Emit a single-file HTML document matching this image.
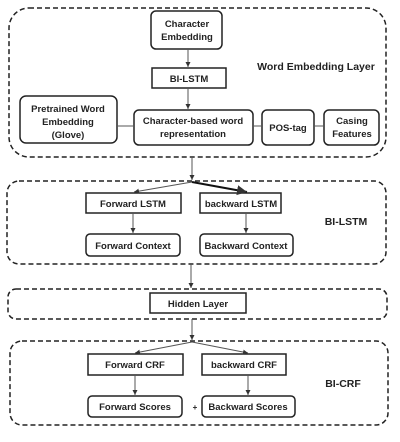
<!DOCTYPE html>
<html><head><style>
body{margin:0;background:#fff;}
svg text{font-family:"Liberation Sans",sans-serif;font-weight:bold;font-size:9.5px;fill:#222;text-anchor:middle;}
</style></head><body>
<svg width="400" height="437" viewBox="0 0 400 437" xmlns="http://www.w3.org/2000/svg">
<defs><marker id="a" markerWidth="6" markerHeight="6" refX="5" refY="3" orient="auto"><path d="M0,0.5 L5,3 L0,5.5z" fill="#333"/></marker></defs>
<g fill="none" stroke="#222" stroke-width="1.5" stroke-dasharray="5,3">
<rect x="9" y="8" width="377" height="149" rx="20"/>
<rect x="7" y="181" width="379" height="83" rx="12"/>
<rect x="8" y="289" width="379" height="30" rx="8"/>
<rect x="10" y="341" width="378" height="84" rx="12"/>
</g>
<g fill="#fff" stroke="#222" stroke-width="1.5">
<rect x="151" y="11" width="71" height="38" rx="5"/>
<rect x="152" y="68" width="74" height="20"/>
<rect x="20" y="96" width="97" height="47" rx="6"/>
<rect x="134" y="110" width="119" height="35" rx="5"/>
<rect x="262" y="110" width="52" height="35" rx="5"/>
<rect x="324" y="110" width="55" height="35" rx="5"/>
<rect x="86" y="193" width="95" height="20"/>
<rect x="200" y="193" width="81" height="20"/>
<rect x="86" y="234" width="94" height="22" rx="4"/>
<rect x="200" y="234" width="93" height="22" rx="4"/>
<rect x="150" y="293" width="96" height="20"/>
<rect x="88" y="354" width="95" height="21"/>
<rect x="202" y="354" width="84" height="21"/>
<rect x="88" y="396" width="94" height="21" rx="4"/>
<rect x="202" y="396" width="93" height="21" rx="4"/>
</g>
<g stroke="#555" stroke-width="1" fill="none">
<line x1="188" y1="49" x2="188" y2="67" marker-end="url(#a)"/>
<line x1="188" y1="88" x2="188" y2="109" marker-end="url(#a)"/>
<line x1="117" y1="126" x2="134" y2="126"/>
<line x1="253" y1="126" x2="262" y2="126"/>
<line x1="314" y1="126" x2="324" y2="126"/>
<line x1="192" y1="157" x2="192" y2="180" marker-end="url(#a)"/>
<line x1="192" y1="182" x2="134" y2="192" marker-end="url(#a)"/>
<line x1="192" y1="182" x2="247" y2="192" stroke="#111" stroke-width="2" marker-end="url(#a)"/>
<line x1="133" y1="213" x2="133" y2="233" marker-end="url(#a)"/>
<line x1="246" y1="213" x2="246" y2="233" marker-end="url(#a)"/>
<line x1="191" y1="264" x2="191" y2="288" marker-end="url(#a)"/>
<line x1="192" y1="319" x2="192" y2="340" marker-end="url(#a)"/>
<line x1="192" y1="342" x2="135" y2="353" marker-end="url(#a)"/>
<line x1="192" y1="342" x2="248" y2="353" marker-end="url(#a)"/>
<line x1="135" y1="375" x2="135" y2="395" marker-end="url(#a)"/>
<line x1="248" y1="375" x2="248" y2="395" marker-end="url(#a)"/>
</g>
<text x="187" y="27">Character</text>
<text x="187" y="40">Embedding</text>
<text x="189" y="82">BI-LSTM</text>
<text x="316" y="70" style="font-size:10.5px">Word Embedding Layer</text>
<text x="68" y="112">Pretrained Word</text>
<text x="68" y="125">Embedding</text>
<text x="68" y="138">(Glove)</text>
<text x="193" y="124">Character-based word</text>
<text x="193" y="137">representation</text>
<text x="288" y="131">POS-tag</text>
<text x="352" y="124">Casing</text>
<text x="352" y="137">Features</text>
<text x="133" y="207">Forward LSTM</text>
<text x="241" y="207">backward LSTM</text>
<text x="346" y="225" style="font-size:10.5px">BI-LSTM</text>
<text x="133" y="249">Forward Context</text>
<text x="246" y="249">Backward Context</text>
<text x="198" y="307">Hidden Layer</text>
<text x="135" y="368">Forward CRF</text>
<text x="244" y="368">backward CRF</text>
<text x="343" y="387" style="font-size:10.5px">BI-CRF</text>
<text x="135" y="410">Forward Scores</text>
<text x="248" y="410">Backward Scores</text>
<text x="195" y="410" style="font-size:8px">+</text>
</svg>
</body></html>
